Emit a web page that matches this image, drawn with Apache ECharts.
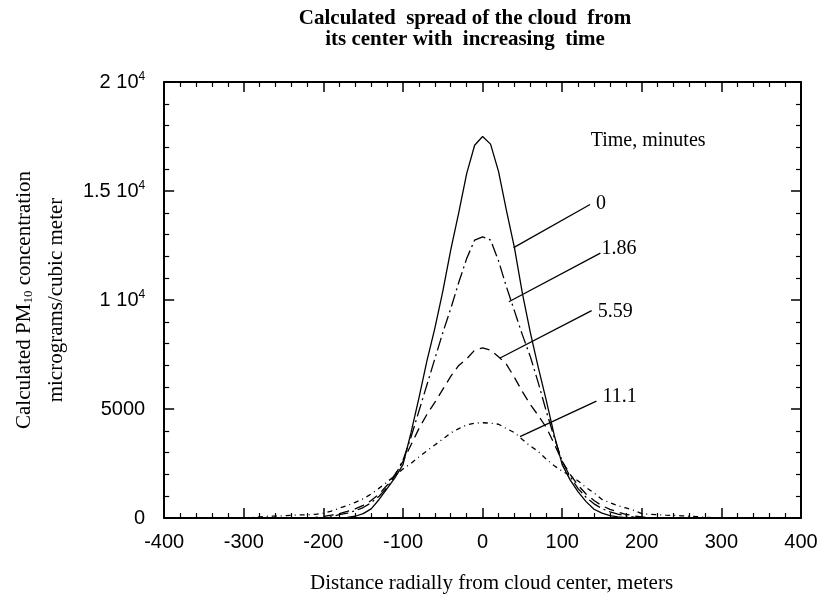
<!DOCTYPE html>
<html>
<head>
<meta charset="utf-8">
<script src="https://cdn.jsdelivr.net/npm/echarts@6/dist/echarts.min.js"></script>
<style>
html,body{margin:0;padding:0;background:#fff;}
#chart{width:823px;height:599px;}
</style>
</head>
<body>
<div id="chart"></div>
<script>
// ---- data ----
const xValues = [-300,-290,-280,-270,-260,-250,-240,-230,-220,-210,
  -200,-190,-180,-170,-160,-150,-140,-130,-120,-110,
  -100,-90,-80,-70,-60,-50,-40,-30,-20,-10,
  0,10,20,30,40,50,60,70,80,90,
  100,110,120,130,140,150,160,170,180,190,
  200,210,220,230,240,250,260,270,280,290,300];

const conc_t0 = [0,0,0,0,0,0,0,0,0,0,
  0,5,10,30,80,200,420,850,1350,1850,
  2450,3900,5500,7200,8700,10400,12300,14000,15800,17100,
  17500,17150,15900,14100,12400,10300,8500,6900,5400,3800,
  2450,1750,1200,750,400,220,110,50,20,5,
  0,0,0,0,0,0,0,0,0,0,0];

const conc_t186 = [0,0,0,0,0,0,0,0,0,0,
  20,60,150,220,330,480,700,1000,1400,1950,
  2650,3700,4900,6100,7300,8500,9600,10800,11900,12750,
  12900,12750,11800,10600,9500,8400,7400,6200,4900,3700,
  2600,1900,1350,950,650,430,280,180,100,40,
  10,0,0,0,0,0,0,0,0,0,0];

const conc_t559 = [0,0,0,0,0,0,0,0,10,30,
  70,130,200,300,420,580,800,1100,1500,2000,
  2600,3350,4100,4750,5300,5900,6500,7000,7300,7700,
  7800,7700,7400,7050,6450,5800,5200,4700,4150,3400,
  2600,2000,1500,1100,800,560,400,270,170,100,
  50,20,5,0,0,0,0,0,0,0,0];

const conc_t111 = [0,20,50,80,90,100,120,140,150,170,
  220,320,450,570,720,880,1100,1370,1650,1950,
  2250,2500,2800,3080,3350,3620,3900,4100,4270,4350,
  4370,4350,4300,4100,3920,3600,3300,3050,2700,2400,
  2150,1950,1700,1400,1150,850,700,560,460,350,
  200,170,150,130,120,100,80,60,30,10,0];

const timeLabels = ['0','1.86','5.59','11.1'];
const yTickValues = [0,5000,10000,15000,20000];
const yTickLabels = ['0','5000','1 10{sup|4}','1.5 10{sup|4}','2 10{sup|4}'];
// leader lines: [startX, startY, endX, endY] in data units
const leaderLines = [
  [39,12400,135,14380],
  [33,9920,148,12150],
  [22,7340,137,9510],
  [47,3730,143,5360]
];
const legendTitle = 'Time, minutes';
const legendTitleAt = [208,17300];

// ---- chart ----
const serif = '"Liberation Serif","Times New Roman",serif';
const sans = '"Liberation Sans",Arial,sans-serif';
const toPairs = arr => xValues.map((x,i)=>[x,arr[i]]);
const styles = ['solid',[13,4,2,4],[10,6],[5,4,1,4]];
const seriesData = [conc_t0,conc_t186,conc_t559,conc_t111];
const labelOffsets = [[0,-1],[-5,-4],[0,1],[0,-4]];

const chart = echarts.init(document.getElementById('chart'), null, {renderer:'canvas'});

const series = seriesData.map((d,i)=>({
  type:'line', name:timeLabels[i], data:toPairs(d), showSymbol:false, symbol:'none',
  lineStyle:{color:'#000', width:1.3, type:styles[i]}, animation:false, silent:true, z:3
}));

series[0].markLine = {
  symbol:'none', silent:true, animation:false,
  lineStyle:{color:'#000', width:1.3, type:'solid'},
  label:{show:false},
  data: leaderLines.map(l=>[{coord:[l[0],l[1]]},{coord:[l[2],l[3]]}])
};
series[0].markPoint = {
  symbol:'circle', symbolSize:0, silent:true, animation:false,
  label:{show:true, position:'right', distance:6, formatter:'{b}', color:'#000', fontFamily:serif, fontSize:20},
  data: leaderLines.map((l,i)=>({name:timeLabels[i], coord:[l[2],l[3]], label:{offset:labelOffsets[i]}})).concat([
    {name:legendTitle, coord:legendTitleAt, label:{position:'inside', fontSize:20}}
  ])
};

const tickCommon = {show:true, inside:true, length:10, lineStyle:{color:'#000', width:1.5}};
const minorCommon = {show:true, splitNumber:5, length:5, lineStyle:{color:'#000', width:1.2}};
const lineCommon = {show:true, onZero:false, lineStyle:{color:'#000', width:2}};

chart.setOption({
  animation:false,
  backgroundColor:'#fff',
  title:{
    text:'Calculated  spread of the cloud  from\nits center with  increasing  time',
    left:460, top:3, textAlign:'center',
    textStyle:{fontFamily:serif, fontWeight:'bold', fontSize:21, lineHeight:21, color:'#000'}
  },
  grid:{left:160, right:22, top:82, bottom:79, containLabel:false},
  xAxis:[{
    type:'value', min:-400, max:400, interval:100, position:'bottom',
    axisLine:lineCommon, axisTick:tickCommon, minorTick:minorCommon, splitLine:{show:false},
    axisLabel:{color:'#000', fontFamily:sans, fontSize:20, margin:14},
    name:'Distance radially from cloud center, meters', nameLocation:'middle', nameGap:55,
    nameTextStyle:{fontFamily:serif, fontSize:21, color:'#000', padding:[0,0,0,18]}
  },{
    type:'value', min:-400, max:400, interval:100, position:'top',
    axisLine:lineCommon, axisTick:tickCommon, minorTick:minorCommon, splitLine:{show:false},
    axisLabel:{show:false}
  }],
  yAxis:[{
    type:'value', min:0, max:20000, interval:5000, position:'left',
    axisLine:lineCommon, axisTick:tickCommon, minorTick:minorCommon, splitLine:{show:false},
    axisLabel:{color:'#000', fontFamily:sans, fontSize:20, margin:19,
      formatter:v=>yTickLabels[yTickValues.indexOf(v)] ?? String(v),
      rich:{sup:{fontFamily:sans, fontSize:12, verticalAlign:'top', padding:[0,0,10,0], color:'#000'}}},
    name:'{t|Calculated PM}{sub|10}{t| concentration}\n{t|micrograms/cubic meter}',
    nameLocation:'middle', nameGap:82, nameRotate:90,
    nameTextStyle:{fontFamily:serif, fontSize:21, color:'#000', lineHeight:32,
      rich:{t:{fontFamily:serif, fontSize:21, color:'#000', lineHeight:32},
            sub:{fontFamily:serif, fontSize:13, color:'#000', padding:[10,0,0,0]}}}
  },{
    type:'value', min:0, max:20000, interval:5000, position:'right',
    axisLine:lineCommon, axisTick:tickCommon, minorTick:minorCommon, splitLine:{show:false},
    axisLabel:{show:false}
  }],
  series:series
});
</script>
</body>
</html>
